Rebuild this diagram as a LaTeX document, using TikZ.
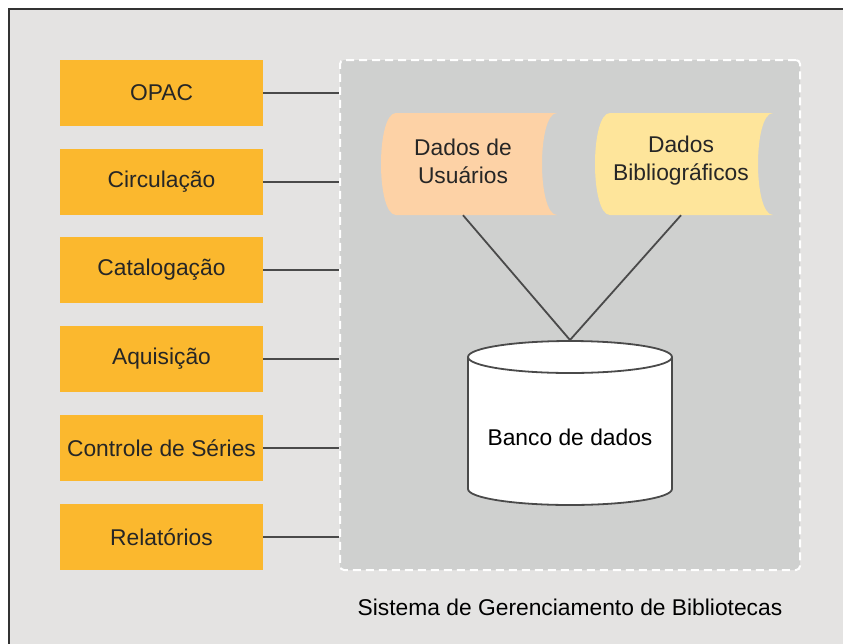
\documentclass[tikz,border=0pt]{standalone}
\usepackage{fontspec}
\setmainfont{Liberation Sans}
\begin{document}
\begin{tikzpicture}[x=1pt,y=-1pt,
  txt/.style={font=\fontsize{22.8}{28}\selectfont, text=black!85},
  module/.style={txt, fill=modorange, minimum width=203pt, minimum height=66pt, inner sep=0pt},
  link/.style={draw=linkgray, line width=1.8pt},
  datatxt/.style={txt, align=center, minimum height=108pt, inner sep=0pt}]
\definecolor{outerbg}{HTML}{E4E3E2}
\definecolor{sysbg}{HTML}{CFD0CF}
\definecolor{modorange}{HTML}{FBB82E}
\definecolor{userpeach}{HTML}{FDD2A6}
\definecolor{biblioyellow}{HTML}{FEE59B}
\definecolor{linkgray}{HTML}{4A4A4A}
\useasboundingbox (0,0) rectangle (843,643);
\clip (0,0) rectangle (843,643);
\fill[white] (0,0) rectangle (843,643);
\draw[fill=outerbg, draw=black!80, line width=2pt] (9,9) rectangle (860,660);
% system box
\node[draw=white, dash pattern=on 8pt off 5pt, line width=2pt, fill=sysbg, rounded corners=4pt,
  minimum width=460pt, minimum height=510pt, inner sep=0pt] (sys) at (570,315) {};
% modules
\node[module] (opac) at (161.5,93) {OPAC};
\node[module] (circ) at (161.5,182) {Circulação};
\node[module] (cat) at (161.5,270) {Catalogação};
\node[module] (aq) at (161.5,359) {Aquisição};
\node[module] (ser) at (161.5,448) {Controle de Séries};
\node[module] (rel) at (161.5,537) {Relatórios};
\foreach \m in {opac,circ,cat,aq,ser,rel}
  \draw[link] (\m.east) -- (\m.east -| sys.west);
% stored data shapes
\fill[userpeach] (396,113) .. controls (376,113) and (376,215) .. (396,215) -- (557,215)
  .. controls (537,215) and (537,113) .. (557,113) -- cycle;
\fill[biblioyellow] (610,113) .. controls (590,113) and (590,215) .. (610,215) -- (773,215)
  .. controls (753,215) and (753,113) .. (773,113) -- cycle;
\node[datatxt] (users) at (463,161) {Dados de\\Usuários};
\node[datatxt] (biblio) at (681,161) {Dados\\Bibliográficos};
% database cylinder
\draw[fill=white, draw=linkgray, line width=1.8pt] (468,357) -- (468,489)
  arc[start angle=180, end angle=0, x radius=102, y radius=16] -- (672,357);
\draw[fill=white, draw=linkgray, line width=1.8pt] (570,357) ellipse [x radius=102, y radius=16];
\coordinate (dbtop) at (570,340);
\node[txt, text=black] (db) at (570,437) {Banco de dados};
\draw[link] (users.south) -- (dbtop);
\draw[link] (biblio.south) -- (dbtop);
\node[txt, text=black] (title) at (570,607) {Sistema de Gerenciamento de Bibliotecas};
\end{tikzpicture}
\end{document}
